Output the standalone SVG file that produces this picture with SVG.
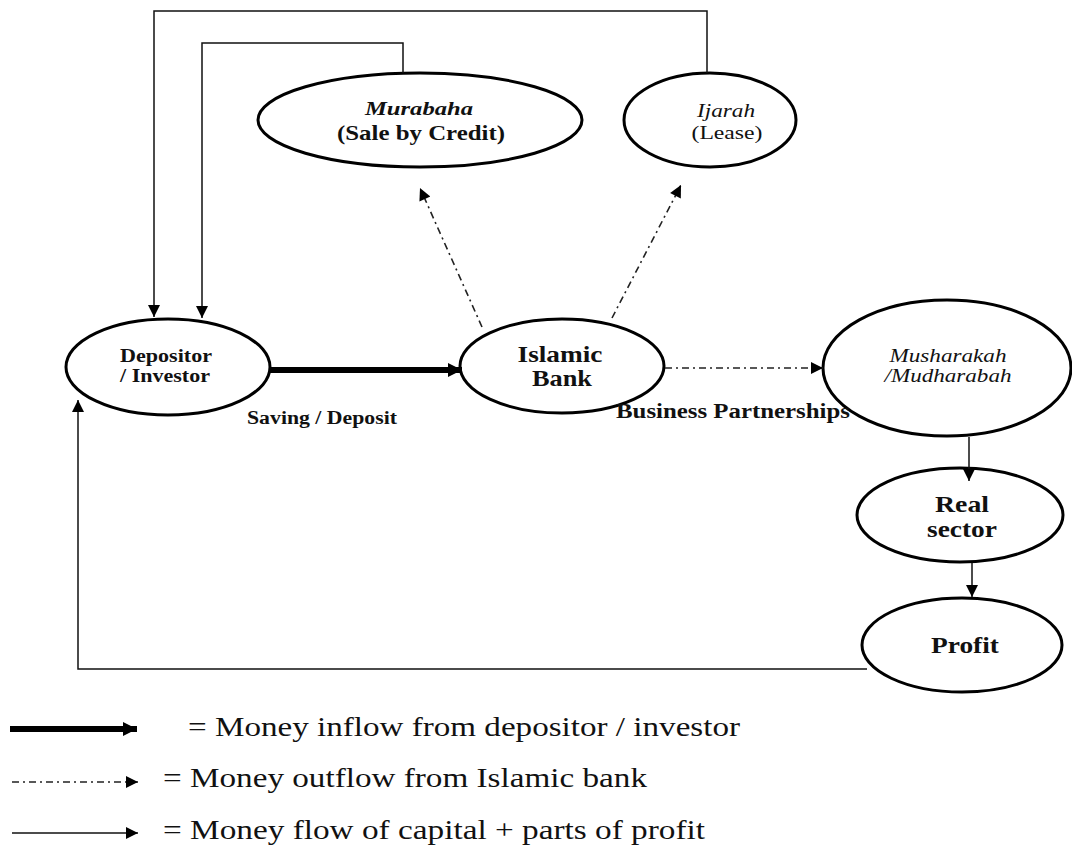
<svg xmlns="http://www.w3.org/2000/svg" width="1072" height="846" viewBox="0 0 1072 846" font-family="'Liberation Serif', 'Times New Roman', Tinos, Times, serif">
<style>
  .node { fill: #fff; stroke: #000; stroke-width: 3; }
  .t { font-family: 'Liberation Serif', 'Times New Roman', Tinos, Times, serif; fill: #111; }
  .b { font-weight: bold; }
  .i { font-style: italic; }
  .thin { fill: none; stroke: #111; stroke-width: 1.5; }
  .dd { fill: none; stroke: #222; stroke-width: 1.6; stroke-dasharray: 7 4 2 4; }
  .thick { fill: none; stroke: #000; stroke-width: 6; }
</style>
<defs>
  <marker id="ah" viewBox="0 0 10 10" refX="10" refY="5" markerWidth="14" markerHeight="12" markerUnits="userSpaceOnUse" orient="auto">
    <path d="M0,0 L10,5 L0,10 z" fill="#000"/>
  </marker>
  <marker id="ahThick" viewBox="0 0 10 10" refX="10" refY="5" markerWidth="14" markerHeight="15" markerUnits="userSpaceOnUse" orient="auto">
    <path d="M0,0 L10,5 L0,10 z" fill="#000"/>
  </marker>
</defs>
<rect width="1072" height="846" fill="#fff"/>

<g id="depositor">
  <ellipse class="node" cx="168" cy="367" rx="102" ry="48"/>
  <text class="t b" x="166" y="362" font-size="19" text-anchor="middle" textLength="92" lengthAdjust="spacingAndGlyphs">Depositor</text>
  <text class="t b" x="165" y="382" font-size="19" text-anchor="middle" textLength="90" lengthAdjust="spacingAndGlyphs">/ Investor</text>
</g>

<g id="islamic-bank">
  <ellipse class="node" cx="562" cy="366" rx="102" ry="47"/>
  <text class="t b" x="560" y="362" font-size="23" text-anchor="middle" textLength="85" lengthAdjust="spacingAndGlyphs">Islamic</text>
  <text class="t b" x="562" y="386" font-size="23" text-anchor="middle" textLength="60" lengthAdjust="spacingAndGlyphs">Bank</text>
</g>

<g id="murabaha">
  <ellipse class="node" cx="420" cy="120" rx="162" ry="47"/>
  <text class="t b i" x="419" y="115" font-size="19" text-anchor="middle" textLength="108" lengthAdjust="spacingAndGlyphs">Murabaha</text>
  <text class="t b" x="421" y="140" font-size="21" text-anchor="middle" textLength="168" lengthAdjust="spacingAndGlyphs">(Sale by Credit)</text>
</g>

<g id="ijarah">
  <ellipse class="node" cx="710" cy="120" rx="86" ry="47"/>
  <text class="t i" x="726" y="117" font-size="19" text-anchor="middle" textLength="58" lengthAdjust="spacingAndGlyphs">Ijarah</text>
  <text class="t" x="727" y="139" font-size="19" text-anchor="middle" textLength="71" lengthAdjust="spacingAndGlyphs">(Lease)</text>
</g>

<g id="musharakah">
  <ellipse class="node" cx="947" cy="368" rx="124" ry="68"/>
  <text class="t i" x="948" y="362" font-size="19" text-anchor="middle" textLength="117" lengthAdjust="spacingAndGlyphs">Musharakah</text>
  <text class="t i" x="948" y="382" font-size="19" text-anchor="middle" textLength="127" lengthAdjust="spacingAndGlyphs">/Mudharabah</text>
</g>

<g id="real-sector">
  <ellipse class="node" cx="960" cy="515" rx="103" ry="47"/>
  <text class="t b" x="962" y="512" font-size="23" text-anchor="middle" textLength="54" lengthAdjust="spacingAndGlyphs">Real</text>
  <text class="t b" x="962" y="537" font-size="23" text-anchor="middle" textLength="70" lengthAdjust="spacingAndGlyphs">sector</text>
</g>

<g id="profit">
  <ellipse class="node" cx="962" cy="645" rx="100" ry="47"/>
  <text class="t b" x="965" y="653" font-size="23" text-anchor="middle" textLength="68" lengthAdjust="spacingAndGlyphs">Profit</text>
</g>

<g id="connectors">
  <polyline class="thin" points="707,73 707,11 154,11 154,317" marker-end="url(#ah)"/>
  <polyline class="thin" points="403,73 403,43 202,43 202,318" marker-end="url(#ah)"/>
  <line class="thick" x1="270" y1="370" x2="462" y2="370" marker-end="url(#ahThick)"/>
  <line class="dd" x1="482" y1="327" x2="420" y2="188" marker-end="url(#ah)"/>
  <line class="dd" x1="612" y1="318" x2="681" y2="185" marker-end="url(#ah)"/>
  <line class="dd" x1="665" y1="368" x2="823" y2="368" marker-end="url(#ah)"/>
  <line class="thin" x1="969" y1="437" x2="969" y2="481" marker-end="url(#ah)"/>
  <line class="thin" x1="972" y1="563" x2="972" y2="597" marker-end="url(#ah)"/>
  <polyline class="thin" points="867,669 78,669 78,400" marker-end="url(#ah)"/>
</g>

<g id="labels">
  <text class="t b" x="247" y="424" font-size="18" textLength="150" lengthAdjust="spacingAndGlyphs">Saving / Deposit</text>
  <text class="t b" x="616" y="418" font-size="20" textLength="234" lengthAdjust="spacingAndGlyphs">Business Partnerships</text>
</g>

<g id="legend">
  <line class="thick" x1="10" y1="729" x2="137" y2="729" marker-end="url(#ahThick)"/>
  <line class="dd" x1="12" y1="782" x2="138" y2="782" stroke="#666" marker-end="url(#ah)"/>
  <line class="thin" x1="12" y1="833" x2="138" y2="833" marker-end="url(#ah)"/>
  <text class="t" x="188" y="736" font-size="28" textLength="552" lengthAdjust="spacingAndGlyphs">= Money inflow from depositor / investor</text>
  <text class="t" x="163" y="787" font-size="28" textLength="484" lengthAdjust="spacingAndGlyphs">= Money outflow from Islamic bank</text>
  <text class="t" x="163" y="839" font-size="28" textLength="542" lengthAdjust="spacingAndGlyphs">= Money flow of capital + parts of profit</text>
</g>
</svg>
